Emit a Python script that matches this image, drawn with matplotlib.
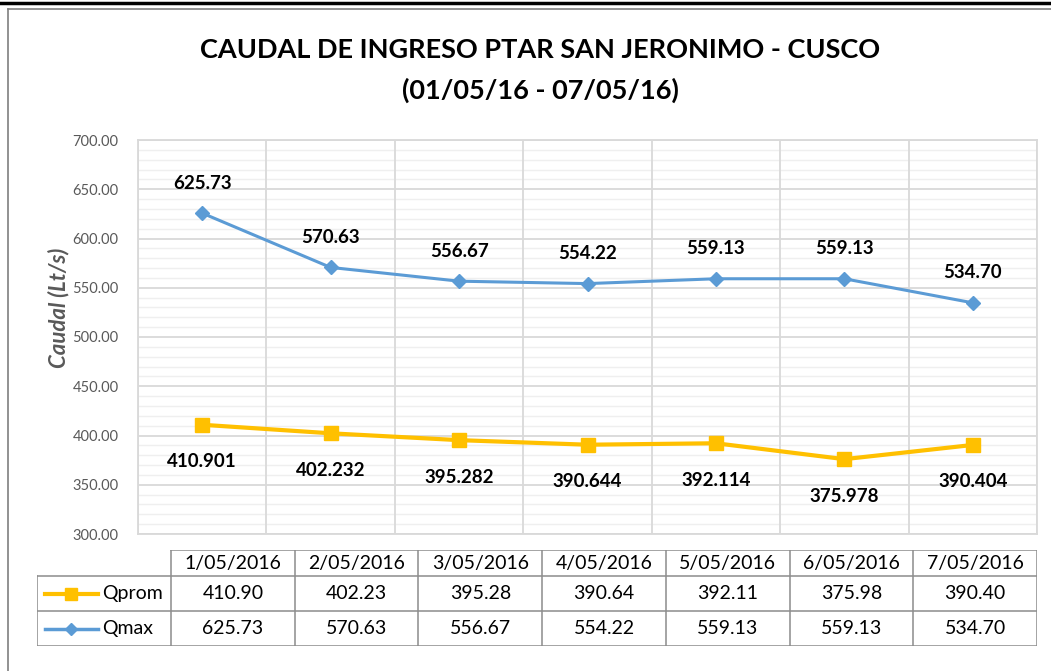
import numpy as np
import matplotlib.pyplot as plt
from matplotlib.lines import Line2D
from matplotlib.ticker import MultipleLocator

plt.rcParams['font.family'] = ['Lato', 'DejaVu Sans']

W, H = 1051, 671

dates = ['1/05/2016', '2/05/2016', '3/05/2016', '4/05/2016',
         '5/05/2016', '6/05/2016', '7/05/2016']
qprom = [410.901, 402.232, 395.282, 390.644, 392.114, 375.978, 390.404]
qmax = [625.73, 570.63, 556.67, 554.22, 559.13, 559.13, 534.70]

COL_PROM = '#FFC000'
COL_MAX = '#5B9BD5'
GRID = '#D9D9D9'
GREY_TXT = '#595959'


def px_rect(x0, y0, x1, y1):
    # pixel box (top-left origin) -> figure fraction rect
    return [x0 / W, 1 - y1 / H, (x1 - x0) / W, (y1 - y0) / H]


def main():
    fig = plt.figure(figsize=(W / 100, H / 100), dpi=100)

    # frame lines like the excel sheet
    fig.add_artist(Line2D([0, 1], [1 - 2.5 / H, 1 - 2.5 / H], color='black', lw=2.5))
    fig.add_artist(Line2D([8 / W, 1], [1 - 9 / H, 1 - 9 / H], color='#7F7F7F', lw=1.2))
    fig.add_artist(Line2D([8 / W, 8 / W], [0, 1 - 9 / H], color='#7F7F7F', lw=1.2))

    fig.text(540 / W, 1 - 50 / H, 'CAUDAL DE INGRESO PTAR SAN JERONIMO - CUSCO',
             ha='center', va='center', fontsize=19.5, fontweight='bold')
    fig.text(540 / W, 1 - 90 / H, '(01/05/16 - 07/05/16)',
             ha='center', va='center', fontsize=19.5, fontweight='bold')

    ax = fig.add_axes(px_rect(138, 140, 1037, 534))
    x = np.arange(len(dates))
    ax.set_xlim(-0.5, len(dates) - 0.5)
    ax.set_ylim(300, 700)

    ax.yaxis.set_minor_locator(MultipleLocator(10))
    ax.set_yticks(np.arange(300, 701, 50))
    ax.set_yticklabels([f'{v:.2f}' for v in np.arange(300, 701, 50)])
    ax.tick_params(axis='y', which='both', length=0, pad=14, labelsize=10.5, labelcolor=GREY_TXT)
    ax.set_xticks([])
    ax.grid(axis='y', which='minor', color='#EFEFEF', lw=1.0)
    ax.grid(axis='y', which='major', color=GRID, lw=1.3)
    for b in np.arange(-0.5, len(dates), 1.0):
        ax.axvline(b, color=GRID, lw=1.3)
    for s in ax.spines.values():
        s.set_color(GRID)
        s.set_linewidth(1.3)
    ax.set_axisbelow(True)

    ax.set_ylabel('Caudal (Lt/s)', fontsize=16, fontweight='bold', style='italic',
                  color=GREY_TXT)
    ax.yaxis.set_label_coords((69 - 138) / 899, (534 - 308) / 394)

    ax.plot(x, qmax, color=COL_MAX, lw=2.2, marker='D', markersize=7, zorder=3)
    ax.plot(x, qprom, color=COL_PROM, lw=3, marker='s', markersize=10, zorder=3)

    for xi, v in zip(x, qmax):
        ax.annotate(f'{v:.2f}', (xi, v), xytext=(0, 30), textcoords='offset pixels',
                    ha='center', va='center', fontsize=13.5, fontweight='bold')
    for xi, v in zip(x, qprom):
        ax.annotate(f'{v:.3f}', (xi, v), xytext=(0, -37), textcoords='offset pixels',
                    ha='center', va='center', fontsize=13.5, fontweight='bold')

    # data table below the plot, drawn in pixel units
    tx0, ty0, tx1, ty1 = 37, 550, 1037, 646
    tab = fig.add_axes(px_rect(tx0, ty0, tx1, ty1))
    tab.set_xlim(tx0, tx1)
    tab.set_ylim(ty1, ty0)
    tab.axis('off')

    col0 = 171
    cw = (tx1 - col0) / len(dates)
    rows = [550, 576, 611, 646]
    lc = '#8C8C8C'
    lw = 1.1
    tab.plot([col0, tx1], [rows[0], rows[0]], color=lc, lw=lw)
    for ry in rows[1:]:
        tab.plot([tx0, tx1], [ry, ry], color=lc, lw=lw)
    tab.plot([tx0, tx0], [rows[1], rows[3]], color=lc, lw=lw)
    for i in range(len(dates) + 1):
        tab.plot([col0 + i * cw] * 2, [rows[0], rows[3]], color=lc, lw=lw)

    fs = 14
    for i, d in enumerate(dates):
        cx = col0 + (i + 0.5) * cw
        tab.text(cx, (rows[0] + rows[1]) / 2, d, ha='center', va='center', fontsize=fs)
        tab.text(cx, (rows[1] + rows[2]) / 2, f'{qprom[i]:.2f}', ha='center', va='center', fontsize=fs)
        tab.text(cx, (rows[2] + rows[3]) / 2, f'{qmax[i]:.2f}', ha='center', va='center', fontsize=fs)

    for (name, col, mk, ms, lwid), r in zip([('Qprom', COL_PROM, 's', 9, 3),
                                            ('Qmax', COL_MAX, 'D', 6, 2.5)], [1, 2]):
        cy = (rows[r] + rows[r + 1]) / 2
        tab.plot([45, 98], [cy, cy], color=col, lw=lwid)
        tab.plot([71], [cy], marker=mk, color=col, markersize=ms)
        tab.text(102, cy, name, ha='left', va='center', fontsize=fs)

    fig.savefig('out.png', dpi=100)


if __name__ == "__main__":
    main()
